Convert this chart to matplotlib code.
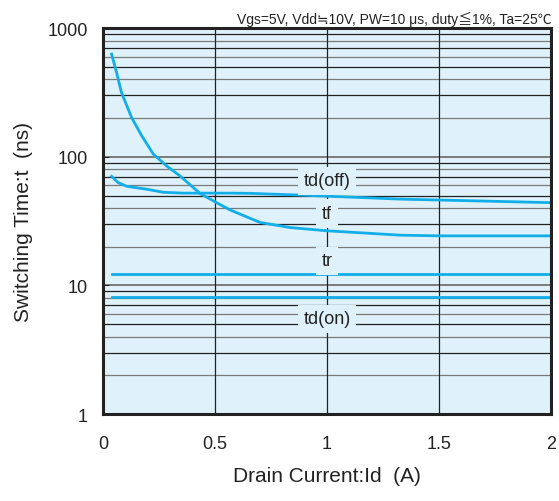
import numpy as np
import matplotlib.pyplot as plt

plt.rcParams['font.family'] = ['Liberation Sans', 'Noto Sans CJK JP', 'DejaVu Sans']
plt.rcParams['text.color'] = '#222222'
plt.rcParams['xtick.color'] = '#222222'
plt.rcParams['ytick.color'] = '#222222'
plt.rcParams['axes.labelcolor'] = '#222222'

# curve data
tf_x = [0.039, 0.061, 0.083, 0.128, 0.173, 0.225, 0.284, 0.344, 0.433, 0.5,
        0.567, 0.701, 0.835, 1.0, 1.177, 1.326, 1.5, 2.0]
tf_y = [628, 453, 316, 202, 146, 105, 85, 71, 52, 44.7,
        38.7, 30.9, 28.2, 26.6, 25.5, 24.6, 24.3, 24.3]
tdoff_x = [0.039, 0.068, 0.106, 0.195, 0.269, 0.358, 0.567, 0.656, 0.879, 1.326, 2.0]
tdoff_y = [70.5, 63, 59, 56, 53, 52.2, 52.2, 52, 50.4, 46.9, 44]
tr_x = [0.04, 2.0]
tr_y = [12.3, 12.3]
tdon_x = [0.04, 2.0]
tdon_y = [8.2, 8.2]

labels = ['td(off)', 'tf', 'tr', 'td(on)']
label_y = [65, 36.3, 15.5, 5.5]

line_col = '#12aee8'
face = '#dff2fb'

fig = plt.figure(figsize=(5.59, 5.02), dpi=100)
ax = fig.add_axes([0.184, 0.173, 0.802, 0.769])
ax.set_facecolor(face)
ax.set_yscale('log')
ax.set_xlim(0, 2)
ax.set_ylim(1, 1000)

# grid
for dec in [1, 10, 100]:
    for k in range(2, 10):
        c = '#222222' if k % 2 == 1 else '#7a7a7a'
        ax.axhline(dec * k, color=c, lw=0.9, zorder=1)
for dec in [10, 100]:
    ax.axhline(dec, color='#7a7a7a', lw=1.4, zorder=1)
for xv in [0.5, 1.0, 1.5]:
    ax.axvline(xv, color='#222222', lw=0.9, zorder=1)

ax.plot(tf_x, tf_y, color=line_col, lw=2, zorder=3)
ax.plot(tdoff_x, tdoff_y, color=line_col, lw=2, zorder=3)
ax.plot(tr_x, tr_y, color=line_col, lw=2, zorder=3)
ax.plot(tdon_x, tdon_y, color=line_col, lw=2, zorder=3)

for lab, yv in zip(labels, label_y):
    ax.text(1.0, yv, lab, ha='center', va='center', fontsize=13, zorder=4,
            bbox=dict(facecolor=face, edgecolor='none', pad=4))

ax.set_xticks([0, 0.5, 1, 1.5, 2])
ax.set_xticklabels(['0', '0.5', '1', '1.5', '2'])
ax.set_yticks([1, 10, 100, 1000])
ax.set_yticklabels(['1', '10', '100', '1000'])
ax.yaxis.set_minor_locator(plt.NullLocator())
ax.tick_params(axis='x', length=0, pad=15, labelsize=13)
ax.tick_params(axis='y', length=4, direction='in', pad=11, labelsize=13)
for s in ax.spines.values():
    s.set_linewidth(2.2)
    s.set_color('#222222')
    s.set_zorder(5)

ax.set_xlabel('Drain Current:Id  (A)', fontsize=15, labelpad=10)
ax.set_ylabel('Switching Time:t  (ns)', fontsize=15, labelpad=10)
fig.text(0.986, 0.962, 'Vgs=5V, Vdd≒10V, PW=10 μs, duty≦1%, Ta=25℃',
         ha='right', va='center', fontsize=10)

plt.savefig('out.png', dpi=100)
